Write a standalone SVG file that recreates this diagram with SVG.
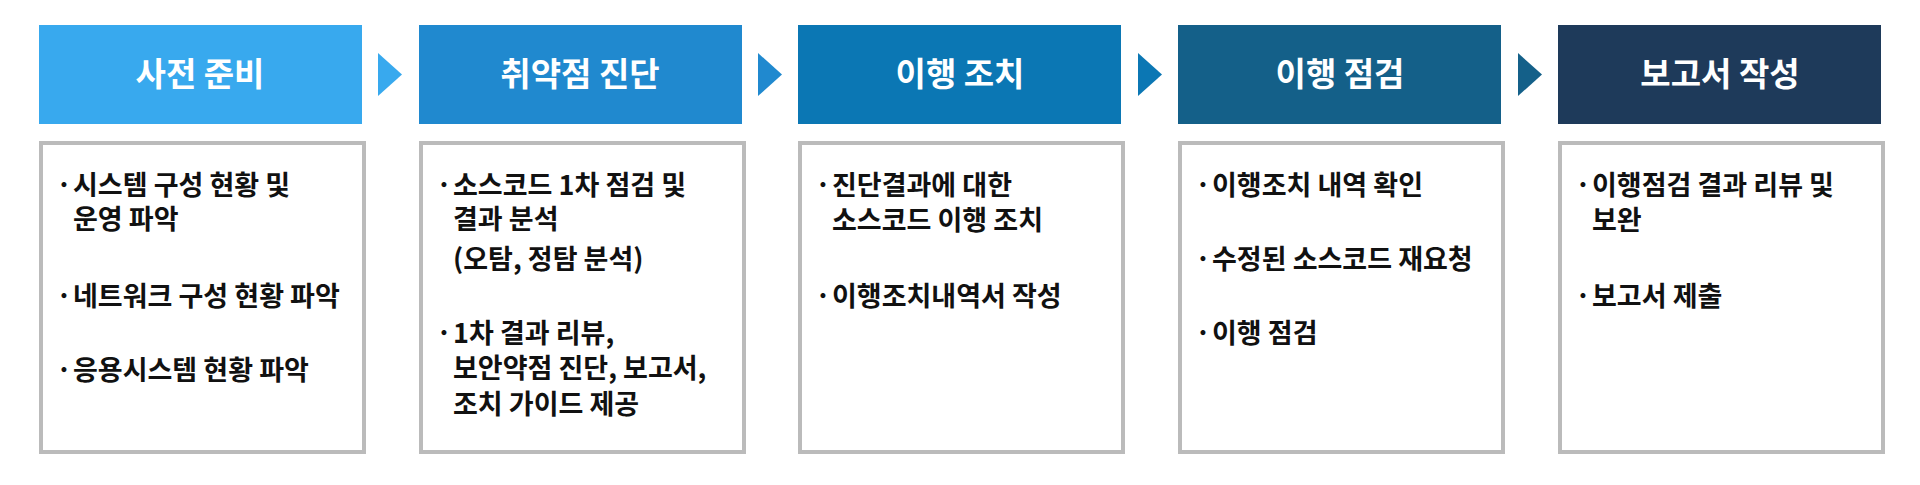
<svg xmlns="http://www.w3.org/2000/svg" width="1920" height="485" viewBox="0 0 1920 485">
<style>
.h{font-family:"Noto Sans CJK KR","Noto Sans",sans-serif;font-size:33px;font-weight:700;fill:#fff;text-anchor:middle}
.b{font-family:"Noto Sans CJK KR","Noto Sans",sans-serif;font-size:27px;font-weight:600;fill:#111}
.box{fill:#fff;stroke:#bbbbbb;stroke-width:4}
</style>
<rect width="1920" height="485" fill="#fff"/>
<g id="n1"><rect x="39" y="25" width="323" height="99" fill="#38a9ee"/><text class="h" x="200" y="86">사전 준비</text>
<rect class="box" x="41" y="143" width="323" height="309"/>
<text class="b"><tspan x="56" y="195">·</tspan><tspan x="73" y="195">시스템 구성 현황 및</tspan><tspan x="73" y="229">운영 파악</tspan><tspan x="56" y="306">·</tspan><tspan x="73" y="306">네트워크 구성 현황 파악</tspan><tspan x="56" y="380">·</tspan><tspan x="73" y="380">응용시스템 현황 파악</tspan></text></g>
<g id="n2"><rect x="419" y="25" width="323" height="99" fill="#2089cf"/><text class="h" x="580" y="86">취약점 진단</text>
<rect class="box" x="421" y="143" width="323" height="309"/>
<text class="b"><tspan x="436" y="195">·</tspan><tspan x="453" y="195">소스코드 1차 점검 및</tspan><tspan x="453" y="229">결과 분석</tspan><tspan x="453" y="269">(오탐, 정탐 분석)</tspan><tspan x="436" y="343">·</tspan><tspan x="453" y="343">1차 결과 리뷰,</tspan><tspan x="453" y="378">보안약점 진단, 보고서,</tspan><tspan x="453" y="414">조치 가이드 제공</tspan></text></g>
<g id="n3"><rect x="798" y="25" width="323" height="99" fill="#0b77b4"/><text class="h" x="960" y="86">이행 조치</text>
<rect class="box" x="800" y="143" width="323" height="309"/>
<text class="b"><tspan x="815" y="195">·</tspan><tspan x="832" y="195">진단결과에 대한</tspan><tspan x="832" y="230">소스코드 이행 조치</tspan><tspan x="815" y="306">·</tspan><tspan x="832" y="306">이행조치내역서 작성</tspan></text></g>
<g id="n4"><rect x="1178" y="25" width="323" height="99" fill="#146089"/><text class="h" x="1340" y="86">이행 점검</text>
<rect class="box" x="1180" y="143" width="323" height="309"/>
<text class="b"><tspan x="1195" y="195">·</tspan><tspan x="1212" y="195">이행조치 내역 확인</tspan><tspan x="1195" y="269">·</tspan><tspan x="1212" y="269">수정된 소스코드 재요청</tspan><tspan x="1195" y="343">·</tspan><tspan x="1212" y="343">이행 점검</tspan></text></g>
<g id="n5"><rect x="1558" y="25" width="323" height="99" fill="#1e3a5a"/><text class="h" x="1720" y="86">보고서 작성</text>
<rect class="box" x="1560" y="143" width="323" height="309"/>
<text class="b"><tspan x="1575" y="195">·</tspan><tspan x="1592" y="195">이행점검 결과 리뷰 및</tspan><tspan x="1592" y="230">보완</tspan><tspan x="1575" y="306">·</tspan><tspan x="1592" y="306">보고서 제출</tspan></text></g>
<g id="connectors">
<polygon points="378,53 402,74.5 378,96" fill="#38a9ee"/>
<polygon points="758,53 782,74.5 758,96" fill="#2089cf"/>
<polygon points="1138,53 1162,74.5 1138,96" fill="#0b77b4"/>
<polygon points="1518,53 1542,74.5 1518,96" fill="#146089"/>
</g>
</svg>
